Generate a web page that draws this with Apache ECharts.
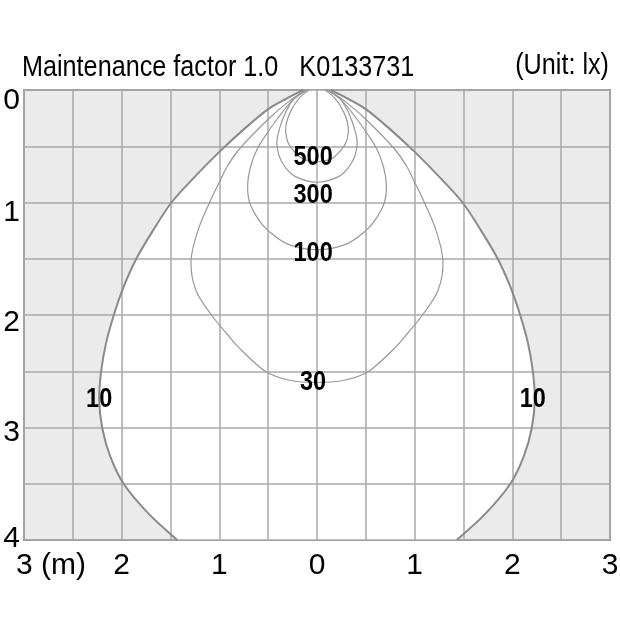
<!DOCTYPE html>
<html>
<head>
<meta charset="utf-8">
<script src="https://cdn.jsdelivr.net/npm/echarts@6/dist/echarts.min.js"></script>
<style>html,body{margin:0;padding:0;background:#fff;}#c{width:620px;height:620px;}</style>
</head>
<body>
<div id="c"></div>
<script>
// ---- data (x: metres from centre, y: metres of depth) ----
const titleText = 'Maintenance factor 1.0   K0133731';
const unitText = '(Unit: lx)';
const xTickValues = [-3, -2, -1, 0, 1, 2, 3];
const yTickValues = [0, 1, 2, 3, 4];

const lux10Left = [[-0.14,0],[-0.32,0.08],[-0.5,0.17],[-0.75,0.35],[-1.0,0.55],[-1.25,0.77],[-1.49,1.0],[-1.68,1.25],[-1.85,1.5],[-1.98,1.75],[-2.08,2.0],[-2.16,2.25],[-2.21,2.5],[-2.23,2.75],[-2.2,3.0],[-2.12,3.25],[-1.98,3.5],[-1.72,3.77],[-1.43,4.0]];
const lux10Right = [[0.14,0],[0.32,0.08],[0.5,0.17],[0.75,0.35],[1.0,0.55],[1.25,0.77],[1.49,1.0],[1.68,1.25],[1.85,1.5],[1.98,1.75],[2.08,2.0],[2.16,2.25],[2.21,2.5],[2.23,2.75],[2.2,3.0],[2.12,3.25],[1.98,3.5],[1.72,3.77],[1.43,4.0]];
const lux30 = [[-0.12,0],[-0.3,0.11],[-0.5,0.26],[-0.79,0.52],[-0.92,0.68],[-1.0,0.82],[-1.1,1.0],[-1.22,1.25],[-1.29,1.52],[-1.24,1.78],[-1.08,2.0],[-0.93,2.16],[-0.8,2.29],[-0.53,2.5],[-0.28,2.58],[0,2.6],[0.28,2.58],[0.53,2.5],[0.8,2.29],[0.93,2.16],[1.08,2.0],[1.24,1.78],[1.29,1.52],[1.22,1.25],[1.1,1.0],[1.0,0.82],[0.92,0.68],[0.79,0.52],[0.5,0.26],[0.3,0.11],[0.12,0]];
const lux100 = [[-0.1,0],[-0.25,0.09],[-0.41,0.26],[-0.5,0.37],[-0.61,0.52],[-0.68,0.68],[-0.71,0.84],[-0.69,1.0],[-0.6,1.15],[-0.5,1.25],[-0.3,1.37],[0,1.42],[0.3,1.37],[0.5,1.25],[0.6,1.15],[0.69,1.0],[0.71,0.84],[0.68,0.68],[0.61,0.52],[0.5,0.37],[0.41,0.26],[0.25,0.09],[0.1,0]];
const lux300 = [[-0.09,0],[-0.2,0.05],[-0.28,0.13],[-0.36,0.28],[-0.41,0.45],[-0.39,0.58],[-0.33,0.68],[-0.22,0.77],[0,0.82],[0.22,0.77],[0.33,0.68],[0.39,0.58],[0.41,0.45],[0.36,0.28],[0.28,0.13],[0.2,0.05],[0.09,0]];
const lux500 = [[-0.08,0],[-0.18,0.07],[-0.27,0.19],[-0.32,0.33],[-0.3,0.46],[-0.24,0.54],[-0.15,0.61],[0,0.64],[0.15,0.61],[0.24,0.54],[0.3,0.46],[0.32,0.33],[0.27,0.19],[0.18,0.07],[0.08,0]];

const labelTexts = ['500', '300', '100', '30', '10', '10'];
const labelX = [-0.04, -0.04, -0.04, -0.04, -2.23, 2.21];
const labelY = [0.6, 0.94, 1.45, 2.6, 2.75, 2.75];

// ---- rendering ----
const FONT = "'Liberation Sans', Arial, sans-serif";
const NARROW = 0.84;
const chart = echarts.init(document.getElementById('c'), null, {renderer: 'canvas'});

function curveCmds(pts) {
  let d = '';
  for (let i = 0; i < pts.length - 1; i++) {
    const p0 = pts[i - 1] || pts[i], p1 = pts[i], p2 = pts[i + 1], p3 = pts[i + 2] || pts[i + 1];
    const c1 = [p1[0] + (p2[0] - p0[0]) / 6, p1[1] + (p2[1] - p0[1]) / 6];
    const c2 = [p2[0] - (p3[0] - p1[0]) / 6, p2[1] - (p3[1] - p1[1]) / 6];
    d += ' C' + c1[0] + ',' + c1[1] + ' ' + c2[0] + ',' + c2[1] + ' ' + p2[0] + ',' + p2[1];
  }
  return d;
}
function openPath(pts) { return 'M' + pts[0][0] + ',' + pts[0][1] + curveCmds(pts); }

const yOffsets = {0: [22, 0], 1: [21, 0], 2: [16, 0], 3: [11, 0], 4: [0, 2]};
const yRich = {};
yTickValues.forEach(v => { yRich['o' + v] = {padding: [yOffsets[v][0], 0, yOffsets[v][1], 0], fontSize: 30, fontFamily: FONT, color: '#000'}; });

const option = {
  animation: false,
  backgroundColor: '#fff',
  graphic: [
    {type: 'text', x: 22, y: 68, scaleX: NARROW, silent: true,
     style: {text: titleText, fontSize: 30, fontFamily: FONT, fill: '#000', align: 'left', verticalAlign: 'middle'}},
    {type: 'text', x: 609, y: 66, scaleX: NARROW, silent: true,
     style: {text: unitText, fontSize: 30, fontFamily: FONT, fill: '#000', align: 'right', verticalAlign: 'middle'}}
  ],
  grid: {left: 24, right: 10, top: 90, bottom: 80, outerBoundsMode: 'none', containLabel: false,
         show: true, backgroundColor: '#ebebeb', borderColor: '#999', borderWidth: 2},
  xAxis: {
    type: 'value', min: -3, max: 3, interval: 0.5, z: 2,
    axisLine: {show: false}, axisTick: {show: false},
    splitLine: {show: true, lineStyle: {color: '#a9a9a9', width: 1.5}},
    axisLabel: {
      margin: 11, fontSize: 30, fontFamily: FONT, color: '#000',
      formatter: v => xTickValues.indexOf(v) < 0 ? '' : (v === -3 ? '{p|}' + Math.abs(v) + ' (m)' : String(Math.abs(v))),
      rich: {p: {width: 54}}
    }
  },
  yAxis: {
    type: 'value', inverse: true, min: 0, max: 4, interval: 0.5, z: 2,
    axisLine: {show: false}, axisTick: {show: false},
    splitLine: {show: true, lineStyle: {color: '#a9a9a9', width: 1.5}},
    axisLabel: {
      margin: 4, fontSize: 30, fontFamily: FONT, color: '#000',
      formatter: v => yTickValues.indexOf(v) < 0 ? '' : '{o' + v + '|' + v + '}',
      rich: yRich
    }
  },
  series: [
    {
      type: 'custom', name: 'fill10', z: 1, silent: true,
      data: [[0, 0]],
      renderItem: (params, api) => {
        const L = lux10Left.map(p => api.coord(p));
        const R = lux10Right.slice().reverse().map(p => api.coord(p));
        const d = openPath(L) + ' L' + R[0][0] + ',' + R[0][1] + curveCmds(R) + ' Z';
        return {type: 'path', shape: {pathData: d}, style: {fill: '#ffffff', stroke: null}};
      }
    },
    {
      type: 'custom', name: 'contours', z: 3, silent: true,
      data: [[0, 0]],
      renderItem: (params, api) => {
        const inner = [lux30, lux100, lux300, lux500].map(c => ({
          type: 'path', shape: {pathData: openPath(c.map(p => api.coord(p)))},
          style: {fill: null, stroke: '#999999', lineWidth: 1.2}
        }));
        const outer = [lux10Left, lux10Right].map(c => ({
          type: 'path', shape: {pathData: openPath(c.map(p => api.coord(p)))},
          style: {fill: null, stroke: '#8a8a8a', lineWidth: 2}
        }));
        return {type: 'group', children: inner.concat(outer)};
      }
    },
    {
      type: 'custom', name: 'labels', z: 5, silent: true,
      data: labelTexts.map((t, i) => [labelX[i], labelY[i]]),
      renderItem: (params, api) => {
        const p = api.coord([api.value(0), api.value(1)]);
        return {type: 'text', x: p[0], y: p[1], scaleX: NARROW,
                style: {text: labelTexts[params.dataIndex], fontSize: 28, fontWeight: 'bold', fontFamily: FONT,
                        fill: '#000', align: 'center', verticalAlign: 'middle'}};
      }
    }
  ]
};
chart.setOption(option);
</script>
</body>
</html>
